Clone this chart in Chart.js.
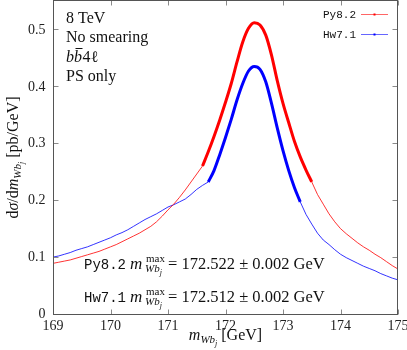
<!DOCTYPE html>
<html><head><meta charset="utf-8">
<script src="https://cdn.jsdelivr.net/npm/chart.js@4/dist/chart.umd.min.js"></script>
<style>html,body{margin:0;padding:0;background:#fff;}canvas{display:block;}</style>
</head><body>
<canvas id="c" width="407" height="350"></canvas>
<script>
// ---- data ----
const massBins = [169.0,169.1,169.2,169.3,169.4,169.5,169.6,169.7,169.8,169.9,
  170.0,170.1,170.2,170.3,170.4,170.5,170.6,170.7,170.8,170.9,
  171.0,171.1,171.2,171.3,171.4,171.5,171.6,171.7,171.8,171.9,
  172.0,172.1,172.2,172.3,172.4,172.5,172.6,172.7,172.8,172.9,
  173.0,173.1,173.2,173.3,173.4,173.5,173.6,173.7,173.8,173.9,
  174.0,174.1,174.2,174.3,174.4,174.5,174.6,174.7,174.8,174.9,175.0];
const py82 = [0.089,0.091,0.093,0.095,0.098,0.101,0.104,0.107,0.110,0.114,
  0.118,0.122,0.127,0.132,0.137,0.142,0.148,0.154,0.162,0.172,
  0.183,0.193,0.205,0.218,0.232,0.246,0.260,0.285,0.312,0.341,
  0.372,0.405,0.443,0.478,0.502,0.512,0.508,0.490,0.455,0.410,
  0.370,0.336,0.303,0.276,0.253,0.232,0.210,0.193,0.176,0.162,
  0.150,0.141,0.133,0.125,0.118,0.112,0.105,0.099,0.092,0.085,0.079];
const hw71 = [0.100,0.102,0.105,0.108,0.112,0.115,0.118,0.122,0.126,0.130,
  0.134,0.139,0.143,0.148,0.154,0.160,0.166,0.171,0.176,0.182,
  0.188,0.192,0.197,0.202,0.210,0.219,0.226,0.232,0.252,0.280,
  0.310,0.342,0.376,0.405,0.427,0.435,0.430,0.408,0.370,0.327,
  0.287,0.252,0.222,0.197,0.175,0.158,0.142,0.130,0.122,0.113,
  0.105,0.099,0.094,0.089,0.084,0.080,0.076,0.071,0.067,0.063,0.060];
const py82FitRange = [171.6, 173.5];
const hw71FitRange = [171.7, 173.3];
const seriesNames = ['Py8.2', 'Hw7.1'];
const fitPeaks = ['172.522', '172.512'];
const fitErrors = ['0.002', '0.002'];
const xTicks = [169, 170, 171, 172, 173, 174, 175];
const yTicks = [0, 0.1, 0.2, 0.3, 0.4, 0.5];
const infoLines = ['8 TeV', 'No smearing', 'bb4ℓ', 'PS only'];

const SERIF = "'Liberation Serif','DejaVu Serif',serif";
const MONO = "'Liberation Mono','DejaVu Sans Mono',monospace";
const RED = '#ff0000', BLUE = '#0000ff';

function pts(vals) { return massBins.map((m, i) => ({x: m, y: vals[i]})); }
function fitPts(vals, r) { return massBins.map((m, i) => ({x: m, y: vals[i]})).filter(p => p.x >= r[0] - 1e-9 && p.x <= r[1] + 1e-9); }

function segW(ctx, s) {
  if (s.stack) return Math.max(...s.stack.map(l => lineW(ctx, l)));
  ctx.font = s.f; return ctx.measureText(s.t).width + (s.dx || 0);
}
function lineW(ctx, segs) { return segs.reduce((a, s) => a + segW(ctx, s), 0); }
function drawSegs(ctx, x, y, segs) {
  for (const s of segs) {
    if (s.stack) { s.stack.forEach(l => drawSegs(ctx, x, y, l)); x += segW(ctx, s); }
    else { ctx.font = s.f; ctx.fillText(s.t, x, y + (s.dy || 0)); x += ctx.measureText(s.t).width + (s.dx || 0); }
  }
}

const deco = {
  id: 'deco',
  afterDraw(chart) {
    const {ctx, chartArea: a, scales: {x, y}} = chart;
    ctx.save();
    const L = Math.round(a.left) + 0.5, R = Math.round(a.right) - 0.5;
    const T = Math.round(a.top) - 0.5, B = Math.round(a.bottom) + 0.5;
    // ticks
    ctx.strokeStyle = '#8a8a8a'; ctx.lineWidth = 1;
    ctx.beginPath();
    xTicks.forEach(v => {
      const px = Math.round(x.getPixelForValue(v)) + 0.5;
      ctx.moveTo(px, B); ctx.lineTo(px, B - 5);
      ctx.moveTo(px, T); ctx.lineTo(px, T + 5);
    });
    yTicks.forEach(v => {
      const py = Math.round(y.getPixelForValue(v)) + 0.5;
      ctx.moveTo(L, py); ctx.lineTo(L + 5, py);
      ctx.moveTo(R, py); ctx.lineTo(R - 5, py);
    });
    ctx.stroke();
    // frame
    ctx.strokeStyle = '#555'; ctx.lineWidth = 1;
    ctx.strokeRect(L, T, R - L, B - T);
    // tick labels
    ctx.fillStyle = '#222';
    ctx.font = `14px ${SERIF}`;
    ctx.textAlign = 'center'; ctx.textBaseline = 'alphabetic';
    xTicks.forEach(v => ctx.fillText(String(v), x.getPixelForValue(v), 330));
    ctx.textAlign = 'right'; ctx.textBaseline = 'middle';
    yTicks.forEach(v => ctx.fillText(v === 0 ? '0' : v.toFixed(1), 45.5, y.getPixelForValue(v) + 0.5));
    ctx.textAlign = 'left'; ctx.textBaseline = 'alphabetic';
    ctx.fillStyle = '#111';
    // x title
    const sub = (t, dy, size) => ({t, f: `italic ${size}px ${SERIF}`, dy});
    const xTitle = [{t: 'm', f: `italic 16px ${SERIF}`}, sub('W', 3, 11), sub('b', 3, 11), sub('j', 5.5, 8), {t: ' [GeV]', f: `16px ${SERIF}`}];
    drawSegs(ctx, (a.left + a.right) / 2 - lineW(ctx, xTitle) / 2, 340, xTitle);
    // y title (rotated)
    const yTitle = [{t: 'd', f: `16px ${SERIF}`}, {t: 'σ', f: `italic 16px ${SERIF}`}, {t: '/d', f: `16px ${SERIF}`},
      {t: 'm', f: `italic 16px ${SERIF}`}, sub('W', 3, 11), sub('b', 3, 11), sub('j', 5.5, 8), {t: ' [pb/GeV]', f: `16px ${SERIF}`}];
    ctx.save();
    ctx.translate(18, (a.top + a.bottom) / 2);
    ctx.rotate(-Math.PI / 2);
    drawSegs(ctx, -lineW(ctx, yTitle) / 2, 0, yTitle);
    ctx.restore();
    // info text top-left
    ctx.font = `16px ${SERIF}`;
    ctx.fillText(infoLines[0], 66, 23);
    ctx.fillText(infoLines[1], 66, 42);
    // b bbar 4 l
    ctx.font = `italic 16px ${SERIF}`;
    ctx.fillText(infoLines[2][0], 66, 62);
    const bw = ctx.measureText('b').width;
    ctx.fillText(infoLines[2][1], 66 + bw, 62);
    ctx.fillRect(66 + bw + 1.5, 48, bw - 1, 1);
    ctx.font = `16px ${SERIF}`;
    ctx.fillText(infoLines[2].slice(2), 66 + 2 * bw + 0.5, 62);
    ctx.fillText(infoLines[3], 66, 81);
    // fit results
    [269, 302].forEach((by, i) => {
      ctx.font = `14px ${MONO}`;
      ctx.fillText(seriesNames[i], 84, by);
      ctx.font = `italic 17px ${SERIF}`;
      ctx.fillText('m', 130, by);
      ctx.font = `11px ${SERIF}`;
      ctx.fillText('max', 146, by - 7);
      drawSegs(ctx, 145, by, [sub('W', 3, 11), sub('b', 3, 11), sub('j', 5.5, 8)]);
      ctx.font = `16.5px ${SERIF}`;
      ctx.fillText('= ' + fitPeaks[i] + ' ± ' + fitErrors[i] + ' GeV', 168, by);
    });
    // legend
    ctx.font = `11px ${MONO}`;
    ctx.textAlign = 'right'; ctx.textBaseline = 'middle';
    [[14.5, RED], [34.5, BLUE]].forEach(([ly, col], i) => {
      ctx.fillStyle = '#111';
      ctx.fillText(seriesNames[i], 356, ly + 0.5);
      ctx.strokeStyle = col; ctx.globalAlpha = 0.6; ctx.lineWidth = 1;
      ctx.beginPath(); ctx.moveTo(361, ly); ctx.lineTo(388, ly); ctx.stroke();
      ctx.globalAlpha = 1; ctx.fillStyle = col;
      ctx.fillRect(373.5, ly - 1, 2, 2);
    });
    ctx.restore();
  }
};

new Chart(document.getElementById('c').getContext('2d'), {
  type: 'line',
  data: {
    datasets: [
      {label: seriesNames[0] + ' fit', data: fitPts(py82, py82FitRange), borderColor: RED, borderWidth: 3, pointRadius: 0, cubicInterpolationMode: 'monotone', order: 0},
      {label: seriesNames[1] + ' fit', data: fitPts(hw71, hw71FitRange), borderColor: BLUE, borderWidth: 3, pointRadius: 0, cubicInterpolationMode: 'monotone', order: 0},
      {label: seriesNames[0], data: pts(py82), borderColor: 'rgba(255,0,0,0.8)', borderWidth: 1, pointRadius: 0, tension: 0, order: 1},
      {label: seriesNames[1], data: pts(hw71), borderColor: 'rgba(0,0,255,0.8)', borderWidth: 1, pointRadius: 0, tension: 0, order: 1}
    ]
  },
  options: {
    responsive: false, animation: false, devicePixelRatio: 1,
    layout: {padding: {left: 53, right: 9, top: 1, bottom: 36}},
    plugins: {legend: {display: false}, tooltip: {enabled: false}},
    scales: {
      x: {type: 'linear', min: 169, max: 175, display: false},
      y: {type: 'linear', min: 0, max: 0.55, display: false}
    }
  },
  plugins: [deco]
});
</script>
</body></html>
